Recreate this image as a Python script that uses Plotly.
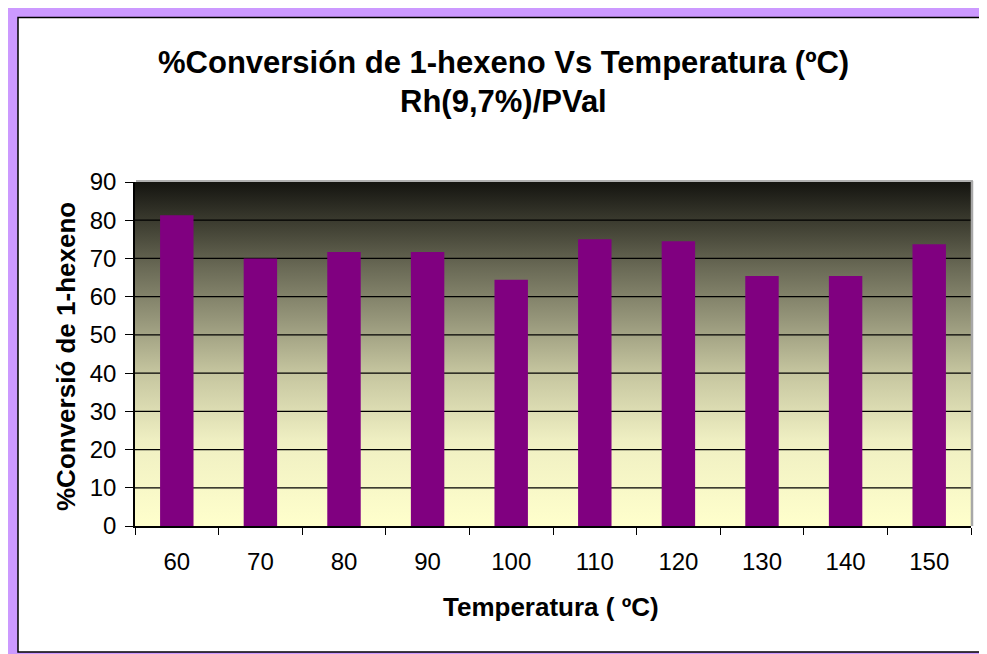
import plotly.graph_objects as go

# ---- data ----
temperatures = ["60", "70", "80", "90", "100", "110", "120", "130", "140", "150"]
conversion = [81.3, 70.0, 71.7, 71.7, 64.4, 75.0, 74.5, 65.4, 65.4, 73.7]
y_ticks = [0, 10, 20, 30, 40, 50, 60, 70, 80, 90]
title_line1 = "%Conversión de 1-hexeno Vs Temperatura (ºC)"
title_line2 = "Rh(9,7%)/PVal"
x_title = "Temperatura ( ºC)"
y_title = "%Conversió de 1-hexeno"

W, H = 979, 646
L, R, T, B = 127, 16, 174, 128
PW, PH = W - L - R, H - T - B

def px(x):
    return (x - L) / PW

def py(y):
    return (H - B - y) / PH

FONT = "Liberation Sans, Arial, sans-serif"
ymin, ymax = y_ticks[0], y_ticks[-1]

fig = go.Figure()

# gradient background of plot area (numeric hidden x axis)
fig.add_trace(go.Scatter(
    x=[0, 1, 1, 0, 0], y=[ymin, ymin, ymax, ymax, ymin],
    mode="lines", line=dict(width=0), fill="toself",
    fillgradient=dict(type="vertical", start=ymin, stop=ymax,
                      colorscale=[[0.0, "#ffffcc"], [0.25, "#efefc2"],
                                  [0.45, "#c4c49e"], [0.6, "#96967a"],
                                  [0.75, "#6a6a56"], [0.89, "#3a3a2e"],
                                  [1.0, "#141410"]]),
    hoverinfo="skip", showlegend=False, xaxis="x", yaxis="y"))

# gridlines
gx, gy = [], []
for v in y_ticks[1:-1]:
    gx += [0, 1, None]
    gy += [v, v, None]
fig.add_trace(go.Scatter(x=gx, y=gy, mode="lines",
                         line=dict(color="#000000", width=1.2),
                         hoverinfo="skip", showlegend=False,
                         xaxis="x", yaxis="y"))

# bars
fig.add_trace(go.Bar(x=temperatures, y=conversion, marker=dict(color="#800080", line=dict(width=0)),
                     showlegend=False, xaxis="x2", yaxis="y"))

shapes = [
    dict(type="rect", xref="paper", yref="paper", x0=px(10), x1=px(1000), y0=py(9.5), y1=py(644),
         fillcolor="#ffffff", line=dict(color="#000000", width=1.5), layer="below"),
    # plot area shadow top/right
    dict(type="line", xref="paper", yref="paper", x0=px(128), x1=px(965), y0=py(173), y1=py(173),
         line=dict(color="#b0b0b0", width=2), layer="above"),
    dict(type="line", xref="paper", yref="paper", x0=px(964), x1=px(964), y0=py(173), y1=py(518),
         line=dict(color="#a8a8a8", width=2.5), layer="above"),
]

annotations = [
    dict(text="<b>" + title_line1 + "</b>", x=px(495), y=py(54), xref="paper", yref="paper",
         showarrow=False, xanchor="center", yanchor="middle", font=dict(family=FONT, size=31, color="#000")),
    dict(text="<b>" + title_line2 + "</b>", x=px(495), y=py(93), xref="paper", yref="paper",
         showarrow=False, xanchor="center", yanchor="middle", font=dict(family=FONT, size=31, color="#000")),
    dict(text="<b>" + x_title + "</b>", x=px(543), y=py(599), xref="paper", yref="paper",
         showarrow=False, xanchor="center", yanchor="middle", font=dict(family=FONT, size=26, color="#000")),
    dict(text="<b>" + y_title + "</b>", x=px(58), y=py(349), xref="paper", yref="paper",
         showarrow=False, xanchor="center", yanchor="middle", textangle=-90,
         font=dict(family=FONT, size=26, color="#000")),
]

fig.update_layout(
    width=W, height=H,
    margin=dict(l=L, r=R, t=T, b=B, pad=0),
    paper_bgcolor="#cc99ff", plot_bgcolor="rgba(0,0,0,0)",
    bargap=0.6,
    shapes=shapes, annotations=annotations,
    xaxis=dict(range=[0, 1], visible=False, showgrid=False, zeroline=False, fixedrange=True),
    xaxis2=dict(overlaying="x", anchor="y", side="bottom", type="category",
                showline=True, linecolor="#000000", linewidth=1.5,
                ticks="outside", tickson="boundaries", ticklen=7, tickwidth=1.2, tickcolor="#000",
                ticklabelstandoff=13,
                showgrid=False, zeroline=False,
                tickfont=dict(family=FONT, size=24, color="#000")),
    yaxis=dict(range=[ymin, ymax], tickvals=y_ticks, showgrid=False, zeroline=False,
               showline=True, linecolor="#000000", linewidth=1.5,
               ticks="outside", ticklen=8, tickwidth=1.2, tickcolor="#000",
               ticklabelstandoff=4,
               tickfont=dict(family=FONT, size=24, color="#000")),
)

fig.write_html("out.html")
